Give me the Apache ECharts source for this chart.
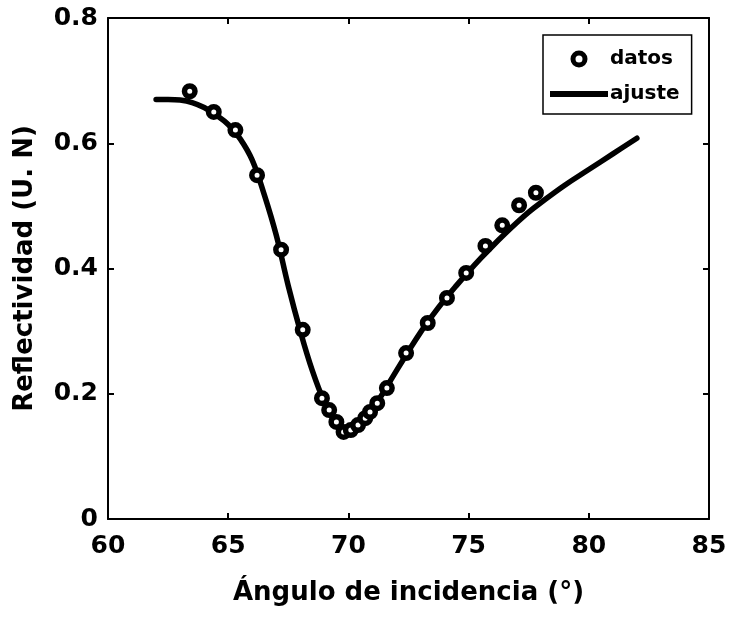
<!DOCTYPE html>
<html>
<head>
<meta charset="utf-8">
<script src="https://cdn.jsdelivr.net/npm/echarts@6/dist/echarts.min.js"></script>
<style>
html,body{margin:0;padding:0;background:#fff;}
#chart{width:732px;height:619px;}
</style>
</head>
<body>
<div id="chart"></div>
<script>
// measured data points
var datosX = [63.4, 64.4, 65.3, 66.2, 67.2, 68.1, 68.9, 69.2, 69.5, 69.8, 70.1, 70.4, 70.7, 70.9, 71.2, 71.6, 72.4, 73.3, 74.1, 74.9, 75.7, 76.4, 77.1, 77.8];
var datosY = [0.683, 0.650, 0.621, 0.549, 0.430, 0.302, 0.193, 0.174, 0.155, 0.139, 0.142, 0.150, 0.161, 0.171, 0.185, 0.209, 0.265, 0.313, 0.353, 0.393, 0.436, 0.469, 0.501, 0.521];
// fitted curve samples
var ajusteX = [62.0, 62.5, 63.0, 63.5, 64.0, 64.5, 65.0, 65.5, 66.0, 66.5, 67.0, 67.5, 68.0, 68.5, 69.0, 69.5, 69.9, 70.3, 70.7, 71.0, 71.5, 72.0, 72.5, 73.0, 73.5, 74.0, 74.5, 75.0, 75.5, 76.0, 76.5, 77.0, 77.5, 78.0, 79.0, 80.0, 81.0, 82.0];
var ajusteY = [0.670, 0.670, 0.669, 0.665, 0.657, 0.645, 0.630, 0.607, 0.573, 0.518, 0.453, 0.372, 0.300, 0.237, 0.187, 0.152, 0.140, 0.145, 0.160, 0.175, 0.205, 0.237, 0.268, 0.298, 0.325, 0.350, 0.373, 0.395, 0.416, 0.436, 0.455, 0.473, 0.490, 0.505, 0.533, 0.558, 0.583, 0.608];
var xTicks = [60, 65, 70, 75, 80, 85];
var yTicks = [0, 0.2, 0.4, 0.6, 0.8];
var seriesNames = ['datos', 'ajuste'];
var xTitle = 'Ángulo de incidencia (°)';
var yTitle = 'Reflectividad (U. N)';

var FONT = 'DejaVu Sans';
function zip(a, b) { return a.map(function (v, i) { return [v, b[i]]; }); }

var chart = echarts.init(document.getElementById('chart'), null, {renderer: 'canvas'});
var axisCommon = {
  axisLine: {show: true, onZero: false, lineStyle: {color: '#000', width: 2}},
  axisTick: {show: true, inside: true, length: 6, lineStyle: {color: '#000', width: 2}},
  splitLine: {show: false}
};
chart.setOption({
  animation: false,
  backgroundColor: '#fff',
  grid: {left: 108, right: 23, top: 18, bottom: 100, containLabel: false},
  legend: {
    orient: 'vertical',
    left: 543, top: 35,
    padding: [14, 12, 10, 7],
    itemGap: 15,
    itemWidth: 58,
    itemHeight: 12,
    borderColor: '#000', borderWidth: 1.5,
    backgroundColor: '#fff',
    textStyle: {fontFamily: FONT, fontWeight: 'bold', fontSize: 20, color: '#000', padding: [0, 0, 0, -3]},
    data: [
      {name: seriesNames[0], icon: 'circle', itemStyle: {color: '#fff', borderColor: '#000', borderWidth: 5}},
      {name: seriesNames[1], icon: 'path://M0,0L58,0L58,6L0,6Z', itemStyle: {color: '#000', borderWidth: 0}}
    ]
  },
  xAxis: [
    Object.assign({
      type: 'value', min: xTicks[0], max: xTicks[xTicks.length - 1], interval: 5, position: 'bottom',
      axisLabel: {fontFamily: FONT, fontWeight: 'bold', fontSize: 25, color: '#000', margin: 15},
      name: xTitle, nameLocation: 'middle', nameGap: 61,
      nameTextStyle: {fontFamily: FONT, fontWeight: 'bold', fontSize: 26, color: '#000'}
    }, axisCommon),
    Object.assign({
      type: 'value', min: xTicks[0], max: xTicks[xTicks.length - 1], interval: 5, position: 'top',
      axisLabel: {show: false}
    }, axisCommon)
  ],
  yAxis: [
    Object.assign({
      type: 'value', min: yTicks[0], max: yTicks[yTicks.length - 1], interval: 0.2, position: 'left',
      axisLabel: {fontFamily: FONT, fontWeight: 'bold', fontSize: 25, color: '#000', margin: 10},
      name: yTitle, nameLocation: 'middle', nameGap: 70,
      nameTextStyle: {fontFamily: FONT, fontWeight: 'bold', fontSize: 26, color: '#000'}
    }, axisCommon),
    Object.assign({
      type: 'value', min: yTicks[0], max: yTicks[yTicks.length - 1], interval: 0.2, position: 'right',
      axisLabel: {show: false}
    }, axisCommon)
  ],
  series: [
    {
      name: seriesNames[1], type: 'line', data: zip(ajusteX, ajusteY),
      smooth: 0.4, showSymbol: false, symbol: 'none', z: 2,
      lineStyle: {color: '#000', width: 5.5, cap: 'round'},
      itemStyle: {color: '#000'}
    },
    {
      name: seriesNames[0], type: 'scatter', data: zip(datosX, datosY),
      symbol: 'circle', symbolSize: 10.5, z: 3,
      itemStyle: {color: '#fff', borderColor: '#000', borderWidth: 5.5, opacity: 1}
    }
  ]
});
</script>
</body>
</html>
